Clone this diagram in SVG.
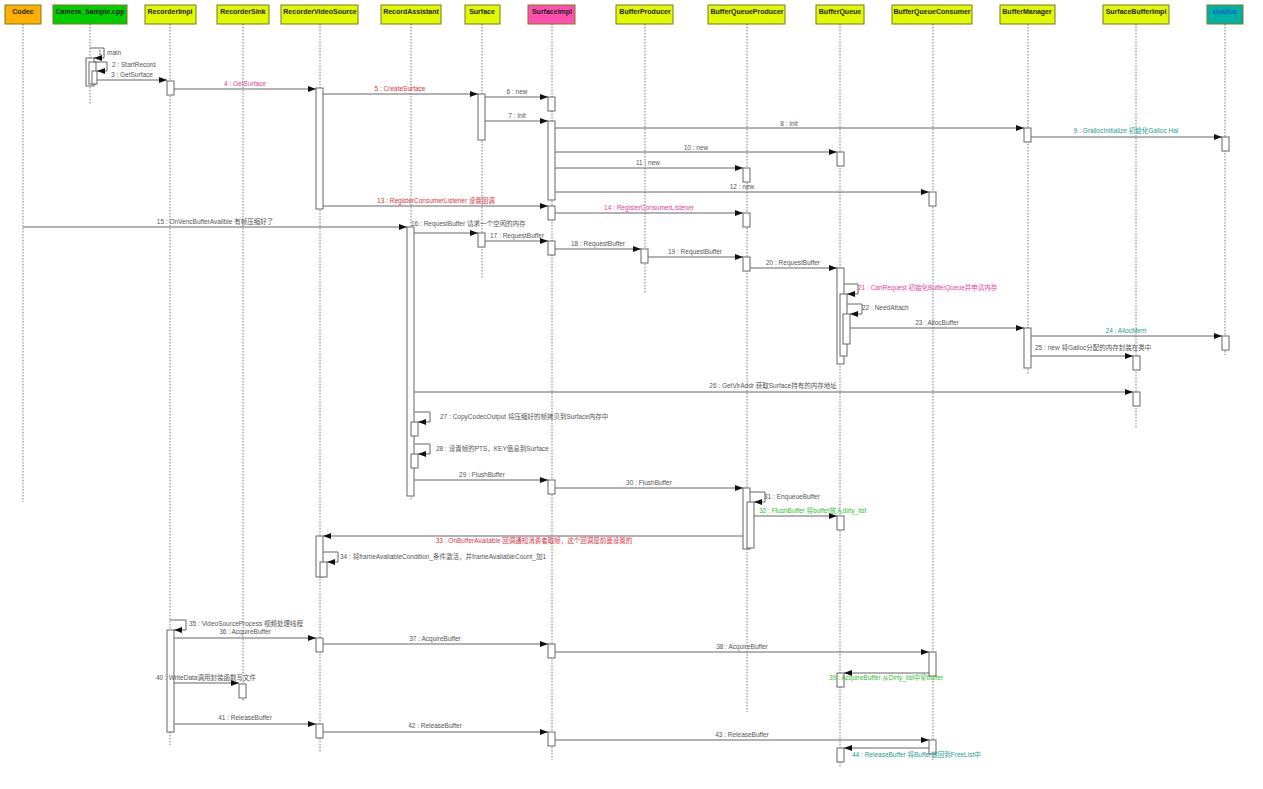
<svg xmlns="http://www.w3.org/2000/svg" width="1263" height="789" viewBox="0 0 1263 789">
<defs>
<marker id="ah" viewBox="0 0 8 6" refX="8" refY="3" markerWidth="8" markerHeight="6" markerUnits="userSpaceOnUse" orient="auto"><path d="M0,0 L8,3 L0,6 z" fill="#111"/></marker>
<style>
.hd{stroke:#7a7a20;stroke-width:1}
.ht{font-family:"Liberation Sans","Noto Sans CJK SC",sans-serif;font-size:7px;font-weight:bold;fill:#222;text-anchor:middle}
.ll{stroke:#555;stroke-width:0.8;stroke-dasharray:1.5,1.5;fill:none}
.ab{fill:#fff;stroke:#666;stroke-width:1}
.m{stroke:#666;stroke-width:1;fill:none;marker-end:url(#ah)}
.t{font-family:"Liberation Sans","Noto Sans CJK SC",sans-serif;font-size:6.5px;fill:#555}
.c{text-anchor:middle}
.pk{fill:#e040a0}
.rd{fill:#e03040}
.tl{fill:#20a090}
.gn{fill:#30c030}
</style>
</defs>
<rect width="1263" height="789" fill="#fff"/>

<g id="Codec"><rect class="hd" x="5" y="5" width="36" height="19" fill="#ffb000"/><text class="ht" x="23" y="14">Codec</text><line class="ll" x1="23" y1="24" x2="23" y2="502"/></g>
<g id="Camera_Sample"><rect class="hd" x="53" y="5" width="74" height="19" fill="#00cc00"/><text class="ht" x="90" y="14">Camera_Sample.cpp</text><line class="ll" x1="90" y1="24" x2="90" y2="104"/>
<rect class="ab" x="86" y="58" width="8" height="28"/><rect class="ab" x="89" y="62" width="7" height="22"/><rect class="ab" x="92" y="71" width="5" height="13"/></g>
<g id="RecorderImpl"><rect class="hd" x="145" y="5" width="51" height="19" fill="#e0f800"/><text class="ht" x="170" y="14">RecorderImpl</text><line class="ll" x1="170" y1="24" x2="170" y2="745"/>
<rect class="ab" x="167" y="81" width="7" height="14"/><rect class="ab" x="167" y="630" width="7" height="102"/></g>
<g id="RecorderSink"><rect class="hd" x="217" y="5" width="52" height="19" fill="#e0f800"/><text class="ht" x="243" y="14">RecorderSink</text><line class="ll" x1="243" y1="24" x2="243" y2="702"/>
<rect class="ab" x="239" y="684" width="7" height="14"/></g>
<g id="RecorderVideoSource"><rect class="hd" x="281" y="5" width="77" height="19" fill="#e0f800"/><text class="ht" x="320" y="14">RecorderVideoSource</text><line class="ll" x1="320" y1="24" x2="320" y2="752"/>
<rect class="ab" x="316" y="88" width="7" height="121"/><rect class="ab" x="316" y="536" width="7" height="41"/><rect class="ab" x="320" y="562" width="7" height="15"/><rect class="ab" x="316" y="638" width="7" height="14"/><rect class="ab" x="316" y="724" width="7" height="14"/></g>
<g id="RecordAssistant"><rect class="hd" x="381" y="5" width="60" height="19" fill="#e0f800"/><text class="ht" x="411" y="14">RecordAssistant</text><line class="ll" x1="411" y1="24" x2="411" y2="500"/>
<rect class="ab" x="407" y="227" width="7" height="269"/><rect class="ab" x="411" y="422" width="7" height="14"/><rect class="ab" x="411" y="454" width="7" height="14"/></g>
<g id="Surface"><rect class="hd" x="465" y="5" width="35" height="19" fill="#e0f800"/><text class="ht" x="482" y="14">Surface</text><line class="ll" x1="482" y1="24" x2="482" y2="278"/>
<rect class="ab" x="478" y="94" width="7" height="46"/><rect class="ab" x="478" y="233" width="7" height="14"/></g>
<g id="SurfaceImpl"><rect class="hd" x="528" y="5" width="47" height="19" fill="#ff50b0"/><text class="ht" x="552" y="14">SurfaceImpl</text><line class="ll" x1="552" y1="24" x2="552" y2="760"/>
<rect class="ab" x="548" y="97" width="7" height="14"/><rect class="ab" x="548" y="121" width="7" height="79"/><rect class="ab" x="548" y="206" width="7" height="14"/><rect class="ab" x="548" y="241" width="7" height="14"/><rect class="ab" x="548" y="480" width="7" height="14"/><rect class="ab" x="548" y="644" width="7" height="14"/><rect class="ab" x="548" y="732" width="7" height="14"/></g>
<g id="BufferProducer"><rect class="hd" x="616" y="5" width="57" height="19" fill="#e0f800"/><text class="ht" x="645" y="14">BufferProducer</text><line class="ll" x1="645" y1="24" x2="645" y2="293"/>
<rect class="ab" x="641" y="249" width="7" height="14"/></g>
<g id="BufferQueueProducer"><rect class="hd" x="708" y="5" width="77" height="19" fill="#e0f800"/><text class="ht" x="747" y="14">BufferQueueProducer</text><line class="ll" x1="747" y1="24" x2="747" y2="712"/>
<rect class="ab" x="743" y="168" width="7" height="14"/><rect class="ab" x="743" y="213" width="7" height="14"/><rect class="ab" x="743" y="257" width="7" height="14"/><rect class="ab" x="743" y="488" width="7" height="61"/><rect class="ab" x="747" y="502" width="7" height="46"/></g>
<g id="BufferQueue"><rect class="hd" x="816" y="5" width="48" height="19" fill="#e0f800"/><text class="ht" x="840" y="14">BufferQueue</text><line class="ll" x1="840" y1="24" x2="840" y2="768"/>
<rect class="ab" x="837" y="152" width="7" height="14"/><rect class="ab" x="837" y="268" width="7" height="96"/><rect class="ab" x="840" y="294" width="7" height="62"/><rect class="ab" x="843" y="314" width="7" height="30"/><rect class="ab" x="837" y="516" width="7" height="14"/><rect class="ab" x="837" y="673" width="7" height="14"/><rect class="ab" x="837" y="748" width="7" height="14"/></g>
<g id="BufferQueueConsumer"><rect class="hd" x="892" y="5" width="80" height="19" fill="#e0f800"/><text class="ht" x="932" y="14">BufferQueueConsumer</text><line class="ll" x1="933" y1="24" x2="933" y2="760"/>
<rect class="ab" x="929" y="192" width="7" height="14"/><rect class="ab" x="929" y="652" width="7" height="24"/><rect class="ab" x="929" y="740" width="7" height="14"/></g>
<g id="BufferManager"><rect class="hd" x="1000" y="5" width="55" height="19" fill="#e0f800"/><text class="ht" x="1027" y="14">BufferManager</text><line class="ll" x1="1028" y1="24" x2="1028" y2="375"/>
<rect class="ab" x="1024" y="128" width="7" height="14"/><rect class="ab" x="1024" y="328" width="7" height="40"/></g>
<g id="SurfaceBufferImpl"><rect class="hd" x="1103" y="5" width="66" height="19" fill="#e0f800"/><text class="ht" x="1136" y="14">SurfaceBufferImpl</text><line class="ll" x1="1136" y1="24" x2="1136" y2="428"/>
<rect class="ab" x="1133" y="356" width="7" height="14"/><rect class="ab" x="1133" y="392" width="7" height="14"/></g>
<g id="Gralloc"><rect class="hd" x="1207" y="5" width="36" height="19" fill="#00b0a0"/><text class="ht" x="1225" y="14" style="fill:#1060d0">Gralloc</text><line class="ll" x1="1225" y1="24" x2="1225" y2="355"/>
<rect class="ab" x="1222" y="137" width="7" height="14"/><rect class="ab" x="1222" y="336" width="7" height="14"/></g>

<g id="connectors">
<path class="m" d="M90,48 H104 V58 H94"/><text class="t" x="98" y="55">1 : main</text>
<path class="m" d="M94,62 H107 V71 H97"/><text class="t" x="112" y="67">2 : StartRecord</text>
<line class="m" x1="97" y1="80" x2="167" y2="80"/><text class="t" x="111" y="77">3 : GetSurface</text>
<line class="m" x1="174" y1="89" x2="316" y2="89"/><text class="t c pk" x="245" y="86">4 : GetSurface</text>
<line class="m" x1="323" y1="94" x2="478" y2="94"/><text class="t c rd" x="400" y="91">5 : CreateSurface</text>
<line class="m" x1="485" y1="97" x2="548" y2="97"/><text class="t c" x="517" y="94">6 : new</text>
<line class="m" x1="485" y1="121" x2="548" y2="121"/><text class="t c" x="517" y="118">7 : Init</text>
<line class="m" x1="555" y1="128" x2="1024" y2="128"/><text class="t c" x="789" y="126">8 : Init</text>
<line class="m" x1="1031" y1="137" x2="1222" y2="137"/><text class="t c tl" x="1126" y="133">9 : GrallocInitialize 初始化Galloc Hal</text>
<line class="m" x1="555" y1="152" x2="837" y2="152"/><text class="t c" x="696" y="150">10 : new</text>
<line class="m" x1="555" y1="168" x2="743" y2="168"/><text class="t c" x="648" y="165">11 : new</text>
<line class="m" x1="555" y1="192" x2="929" y2="192"/><text class="t c" x="742" y="189">12 : new</text>
<line class="m" x1="323" y1="206" x2="548" y2="206"/><text class="t c rd" x="436" y="203">13 : RegisterConsumerListener 设置回调</text>
<line class="m" x1="555" y1="213" x2="743" y2="213"/><text class="t c pk" x="649" y="210">14 : RegisterConsumerListener</text>
<line class="m" x1="23" y1="227" x2="407" y2="227"/><text class="t c" x="215" y="224">15 : OnVencBufferAvailble 有帧压缩好了</text>
<line class="m" x1="414" y1="233" x2="478" y2="233"/><text class="t" x="411" y="226">16 : RequestBuffer 请求一个空闲的内存</text>
<line class="m" x1="485" y1="241" x2="548" y2="241"/><text class="t" x="490" y="238">17 : RequestBuffer</text>
<line class="m" x1="555" y1="249" x2="641" y2="249"/><text class="t c" x="598" y="246">18 : RequestBuffer</text>
<line class="m" x1="648" y1="257" x2="743" y2="257"/><text class="t c" x="695" y="254">19 : RequestBuffer</text>
<line class="m" x1="750" y1="268" x2="837" y2="268"/><text class="t c" x="793" y="265">20 : RequestBuffer</text>
<path class="m" d="M844,284 H858 V294 H847"/><text class="t pk" x="858" y="290">21 : CanRequest 初始化BufferQueue并申请内存</text>
<path class="m" d="M847,304 H862 V314 H850"/><text class="t" x="862" y="310">22 : NeedAttach</text>
<line class="m" x1="850" y1="328" x2="1024" y2="328"/><text class="t c" x="937" y="325">23 : AllocBuffer</text>
<line class="m" x1="1031" y1="336" x2="1222" y2="336"/><text class="t c tl" x="1126" y="333">24 : AllocMem</text>
<line class="m" x1="1031" y1="356" x2="1133" y2="356"/><text class="t" x="1035" y="350">25 : new 将Galloc分配的内存封装在类中</text>
<line class="m" x1="414" y1="392" x2="1133" y2="392"/><text class="t c" x="773" y="388">26 : GetVirAddr 获取Surface持有的内存地址</text>
<path class="m" d="M414,412 H430 V422 H418"/><text class="t" x="440" y="419">27 : CopyCodecOutput  将压缩好的帧拷贝到Surface内存中</text>
<path class="m" d="M414,444 H430 V454 H418"/><text class="t" x="436" y="451">28 : 设置帧的PTS，KEY值息到Surface</text>
<line class="m" x1="414" y1="480" x2="548" y2="480"/><text class="t c" x="482" y="477">29 : FlushBuffer</text>
<line class="m" x1="555" y1="488" x2="743" y2="488"/><text class="t c" x="649" y="485">30 : FlushBuffer</text>
<path class="m" d="M750,492 H765 V502 H754"/><text class="t" x="764" y="499">31 : EnqueueBuffer</text>
<line class="m" x1="754" y1="516" x2="837" y2="516"/><text class="t gn" x="759" y="513">32 : FlushBuffer 将buffer放入dirty_list</text>
<line class="m" x1="743" y1="536" x2="323" y2="536"/><text class="t c rd" x="534" y="543">33 : OnBufferAvailable 回调通知消费者取帧，这个回调是前面设置的</text>
<path class="m" d="M323,552 H338 V562 H327"/><text class="t" x="340" y="559">34 : 将frameAvailableCondition_条件激活，并frameAvailableCount_加1</text>
<path class="m" d="M170,620 H186 V630 H174"/><text class="t" x="189" y="626">35 : VideoSourceProcess  视频处理线程</text>
<line class="m" x1="174" y1="638" x2="316" y2="638"/><text class="t c" x="245" y="634">36 : AcquireBuffer</text>
<line class="m" x1="323" y1="644" x2="548" y2="644"/><text class="t c" x="435" y="641">37 : AcquireBuffer</text>
<line class="m" x1="555" y1="652" x2="929" y2="652"/><text class="t c" x="742" y="649">38 : AcquireBuffer</text>
<line class="m" x1="929" y1="673" x2="844" y2="673"/><text class="t gn" x="829" y="680">39 : AcquireBuffer 从Dirty_list中拿buffer</text>
<line class="m" x1="174" y1="683" x2="239" y2="683"/><text class="t" x="156" y="680">40 : WriteData调用封装函数写文件</text>
<line class="m" x1="174" y1="724" x2="316" y2="724"/><text class="t c" x="245" y="720">41 : ReleaseBuffer</text>
<line class="m" x1="323" y1="732" x2="548" y2="732"/><text class="t c" x="435" y="728">42 : ReleaseBuffer</text>
<line class="m" x1="555" y1="740" x2="929" y2="740"/><text class="t c" x="742" y="737">43 : ReleaseBuffer</text>
<line class="m" x1="929" y1="748" x2="844" y2="748"/><text class="t tl" x="852" y="757">44 : ReleaseBuffer 将Buffer放回到FreeList中</text>
</g>
</svg>
